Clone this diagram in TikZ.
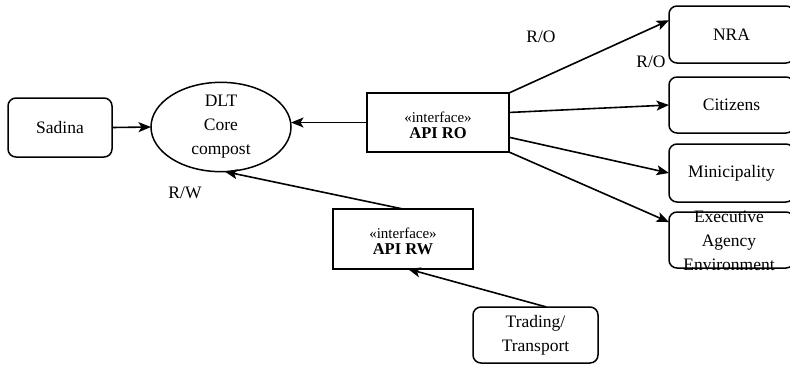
\documentclass[tikz,border=0pt]{standalone}
\usepackage{fontspec}
\setmainfont{Liberation Serif}
\usetikzlibrary{shapes.geometric,arrows.meta,calc}
\begin{document}
\begin{tikzpicture}[x=1pt,y=-1pt,
  every node/.style={inner sep=0pt,outer sep=0pt},
  rbox/.style={draw,line width=1.5pt,rounded corners=8pt,align=center,font=\fontsize{17.5}{24}\selectfont},
  ibox/.style={draw,line width=1.5pt,align=center},
  lbl/.style={font=\fontsize{17.5}{20}\selectfont},
  arr/.style={line width=1.6pt,-{Stealth[length=12.5pt,width=10pt,inset=3pt]}}]
\useasboundingbox (0,0) rectangle (790,365);
\clip (0,0) rectangle (790,365);
% left
\node[rbox,minimum width=104pt,minimum height=59pt] (sadina) at (60,127.5) {Sadina};
\node[draw,line width=1.5pt,ellipse,minimum width=140pt,minimum height=84pt,align=center,
  font=\fontsize{17.5}{24}\selectfont] (dlt) at (221,127) {DLT\\Core\\compost};
% interfaces
\node[ibox,minimum width=142pt,minimum height=59pt] (apiro) at (438,122.5) {};
\node[align=center] (apirot) at (438,125) {{\fontsize{15}{15}\selectfont «interface»}\\[4pt]{\fontsize{16.5}{16}\selectfont\bfseries API RO}};
\node[ibox,minimum width=140pt,minimum height=60pt] (apirw) at (403,239) {};
\node[align=center] (apirwt) at (403,241) {{\fontsize{15}{15}\selectfont «interface»}\\[4pt]{\fontsize{16.5}{16}\selectfont\bfseries API RW}};
% right boxes
\node[rbox,minimum width=125pt,minimum height=57pt] (nra) at (731.5,34.5) {NRA};
\node[rbox,minimum width=125pt,minimum height=56pt] (cit) at (731.5,105) {Citizens};
\node[rbox,minimum width=125pt,minimum height=58pt] (min) at (731.5,173) {Minicipality};
\node[rbox,minimum width=125pt,minimum height=56pt] (exa) at (731.5,240) {};
\node[align=center,font=\fontsize{17.5}{24}\selectfont] (exat) at (729,241) {Executive\\Agency\\Environment};
\node[rbox,minimum width=125pt,minimum height=56pt] (trading) at (535.5,335) {Trading/\\Transport};
% labels
\node[lbl] (ro1) at (541,37) {R/O};
\node[lbl] (ro2) at (651,62) {R/O};
\node[lbl] (rw) at (185,193) {R/W};
% connectors
\draw[arr] (sadina.east) -- (dlt.west);
\draw[arr] (apiro.west) -- (dlt.east |- apiro.west);
\draw[arr] (apirw.north) -- (dlt.275);
\draw[arr] ($(trading.north)+(11,0)$) -- ($(apirw.south)+(5,0)$);
\draw[arr] (apiro.north east) -- ($(nra.north west)!0.25!(nra.south west)$);
\draw[arr] ($(apiro.north east)!0.33!(apiro.south east)$) -- (cit.west);
\draw[arr] ($(apiro.north east)!0.75!(apiro.south east)$) -- (min.west);
\draw[arr] (apiro.south east) -- ($(exa.north west)!0.18!(exa.south west)$);
\end{tikzpicture}
\end{document}
